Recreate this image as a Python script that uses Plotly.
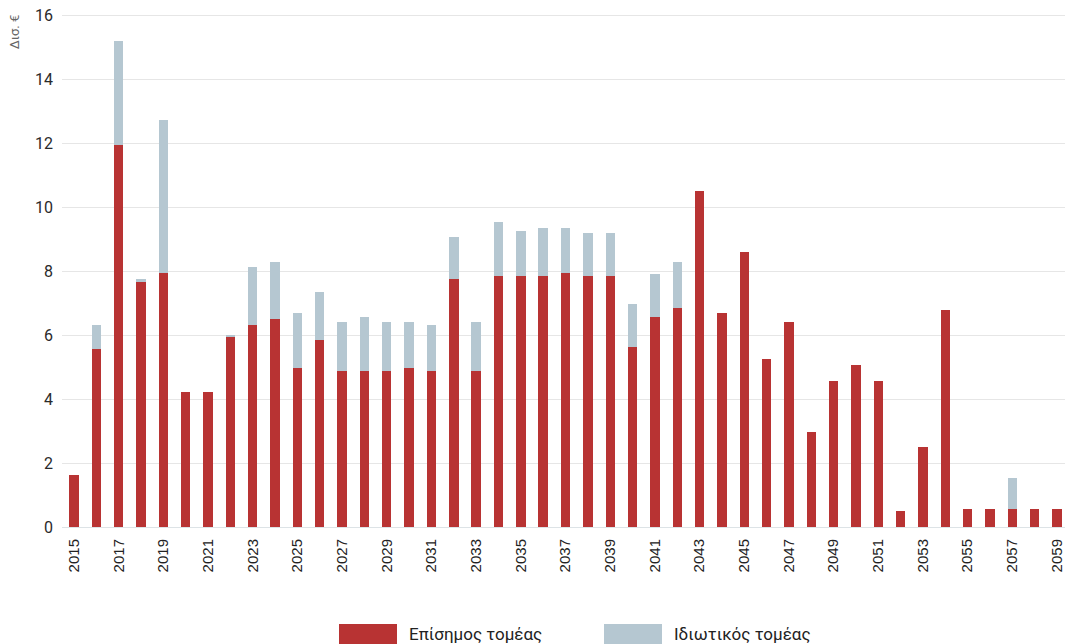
import plotly.graph_objects as go

years = list(range(2015, 2060))
official = [1.63, 5.56, 11.93, 7.68, 7.95, 4.22, 4.22, 5.93, 6.3, 6.5,
            4.97, 5.84, 4.87, 4.87, 4.87, 4.97, 4.87, 7.76, 4.87, 7.84,
            7.84, 7.84, 7.93, 7.84, 7.84, 5.64, 6.57, 6.86, 10.5, 6.7,
            8.6, 5.26, 6.4, 2.97, 4.58, 5.06, 4.58, 0.5, 2.5, 6.78,
            0.57, 0.57, 0.57, 0.57, 0.57]
total = [1.63, 6.3, 15.18, 7.74, 12.71, 4.22, 4.22, 6.01, 8.13, 8.3,
         6.69, 7.36, 6.41, 6.58, 6.41, 6.41, 6.31, 9.07, 6.41, 9.54,
         9.26, 9.36, 9.36, 9.18, 9.18, 6.97, 7.92, 8.29, 10.5, 6.7,
         8.6, 5.26, 6.4, 2.97, 4.58, 5.06, 4.58, 0.5, 2.5, 6.78,
         0.57, 0.57, 1.52, 0.57, 0.57]
private = [round(t - o, 2) for t, o in zip(total, official)]
tick_years = list(range(2015, 2060, 2))

RED = "#B83333"
GREY = "#B5C7D1"

fig = go.Figure()
fig.add_trace(go.Bar(x=years, y=official, name="Επίσημος τομέας",
                     marker=dict(color=RED, line=dict(width=0)), width=0.42))
fig.add_trace(go.Bar(x=years, y=private, name="Ιδιωτικός τομέας",
                     marker=dict(color=GREY, line=dict(width=0)), width=0.42))

fig.update_layout(
    barmode="stack",
    width=1065, height=644,
    margin=dict(l=62, r=0, t=12, b=117),
    paper_bgcolor="white", plot_bgcolor="white",
    showlegend=False,
    font=dict(family="Roboto, Liberation Sans, sans-serif", color="#2a2a2a"),
    xaxis=dict(range=[2014.46, 2059.36], tickmode="array", tickvals=tick_years,
               ticktext=[str(y) for y in tick_years], tickangle=-90,
               tickfont=dict(family="Liberation Sans, Arial, sans-serif", size=15, color="#222222"),
               showgrid=False, zeroline=False, showline=False, ticks="",
               ticklabelstandoff=8),
    yaxis=dict(range=[0, 16.1], tickvals=list(range(0, 17, 2)),
               tickfont=dict(size=16, color="#2a2a2a"),
               showgrid=True, gridcolor="#e6e6e6", gridwidth=1,
               zeroline=True, zerolinecolor="#dde3e6", zerolinewidth=1,
               ticks="", ticklabelstandoff=8),
)

# y-axis unit label
fig.add_annotation(text="Δισ. €", xref="paper", yref="paper", x=-0.047, y=1.0,
                   xanchor="center", yanchor="top", textangle=-90, showarrow=False,
                   font=dict(size=13, color="#666666"))

# legend (manual, large swatches)
legend_items = [("Επίσημος τομέας", RED, 339), ("Ιδιωτικός τομέας", GREY, 604)]
for label, col, x0 in legend_items:
    fig.add_shape(type="rect", xref="paper", yref="paper",
                  x0=(x0 - 62) / 1003, x1=(x0 + 58 - 62) / 1003,
                  y0=-(645 - 527) / 515, y1=-(624 - 527) / 515,
                  fillcolor=col, line=dict(width=0))
    fig.add_annotation(text=label, xref="paper", yref="paper",
                       x=(x0 + 68 - 62) / 1003, y=-(634 - 527) / 515,
                       xanchor="left", yanchor="middle", showarrow=False,
                       font=dict(size=17, color="#222222"))

fig.write_html("out.html")
